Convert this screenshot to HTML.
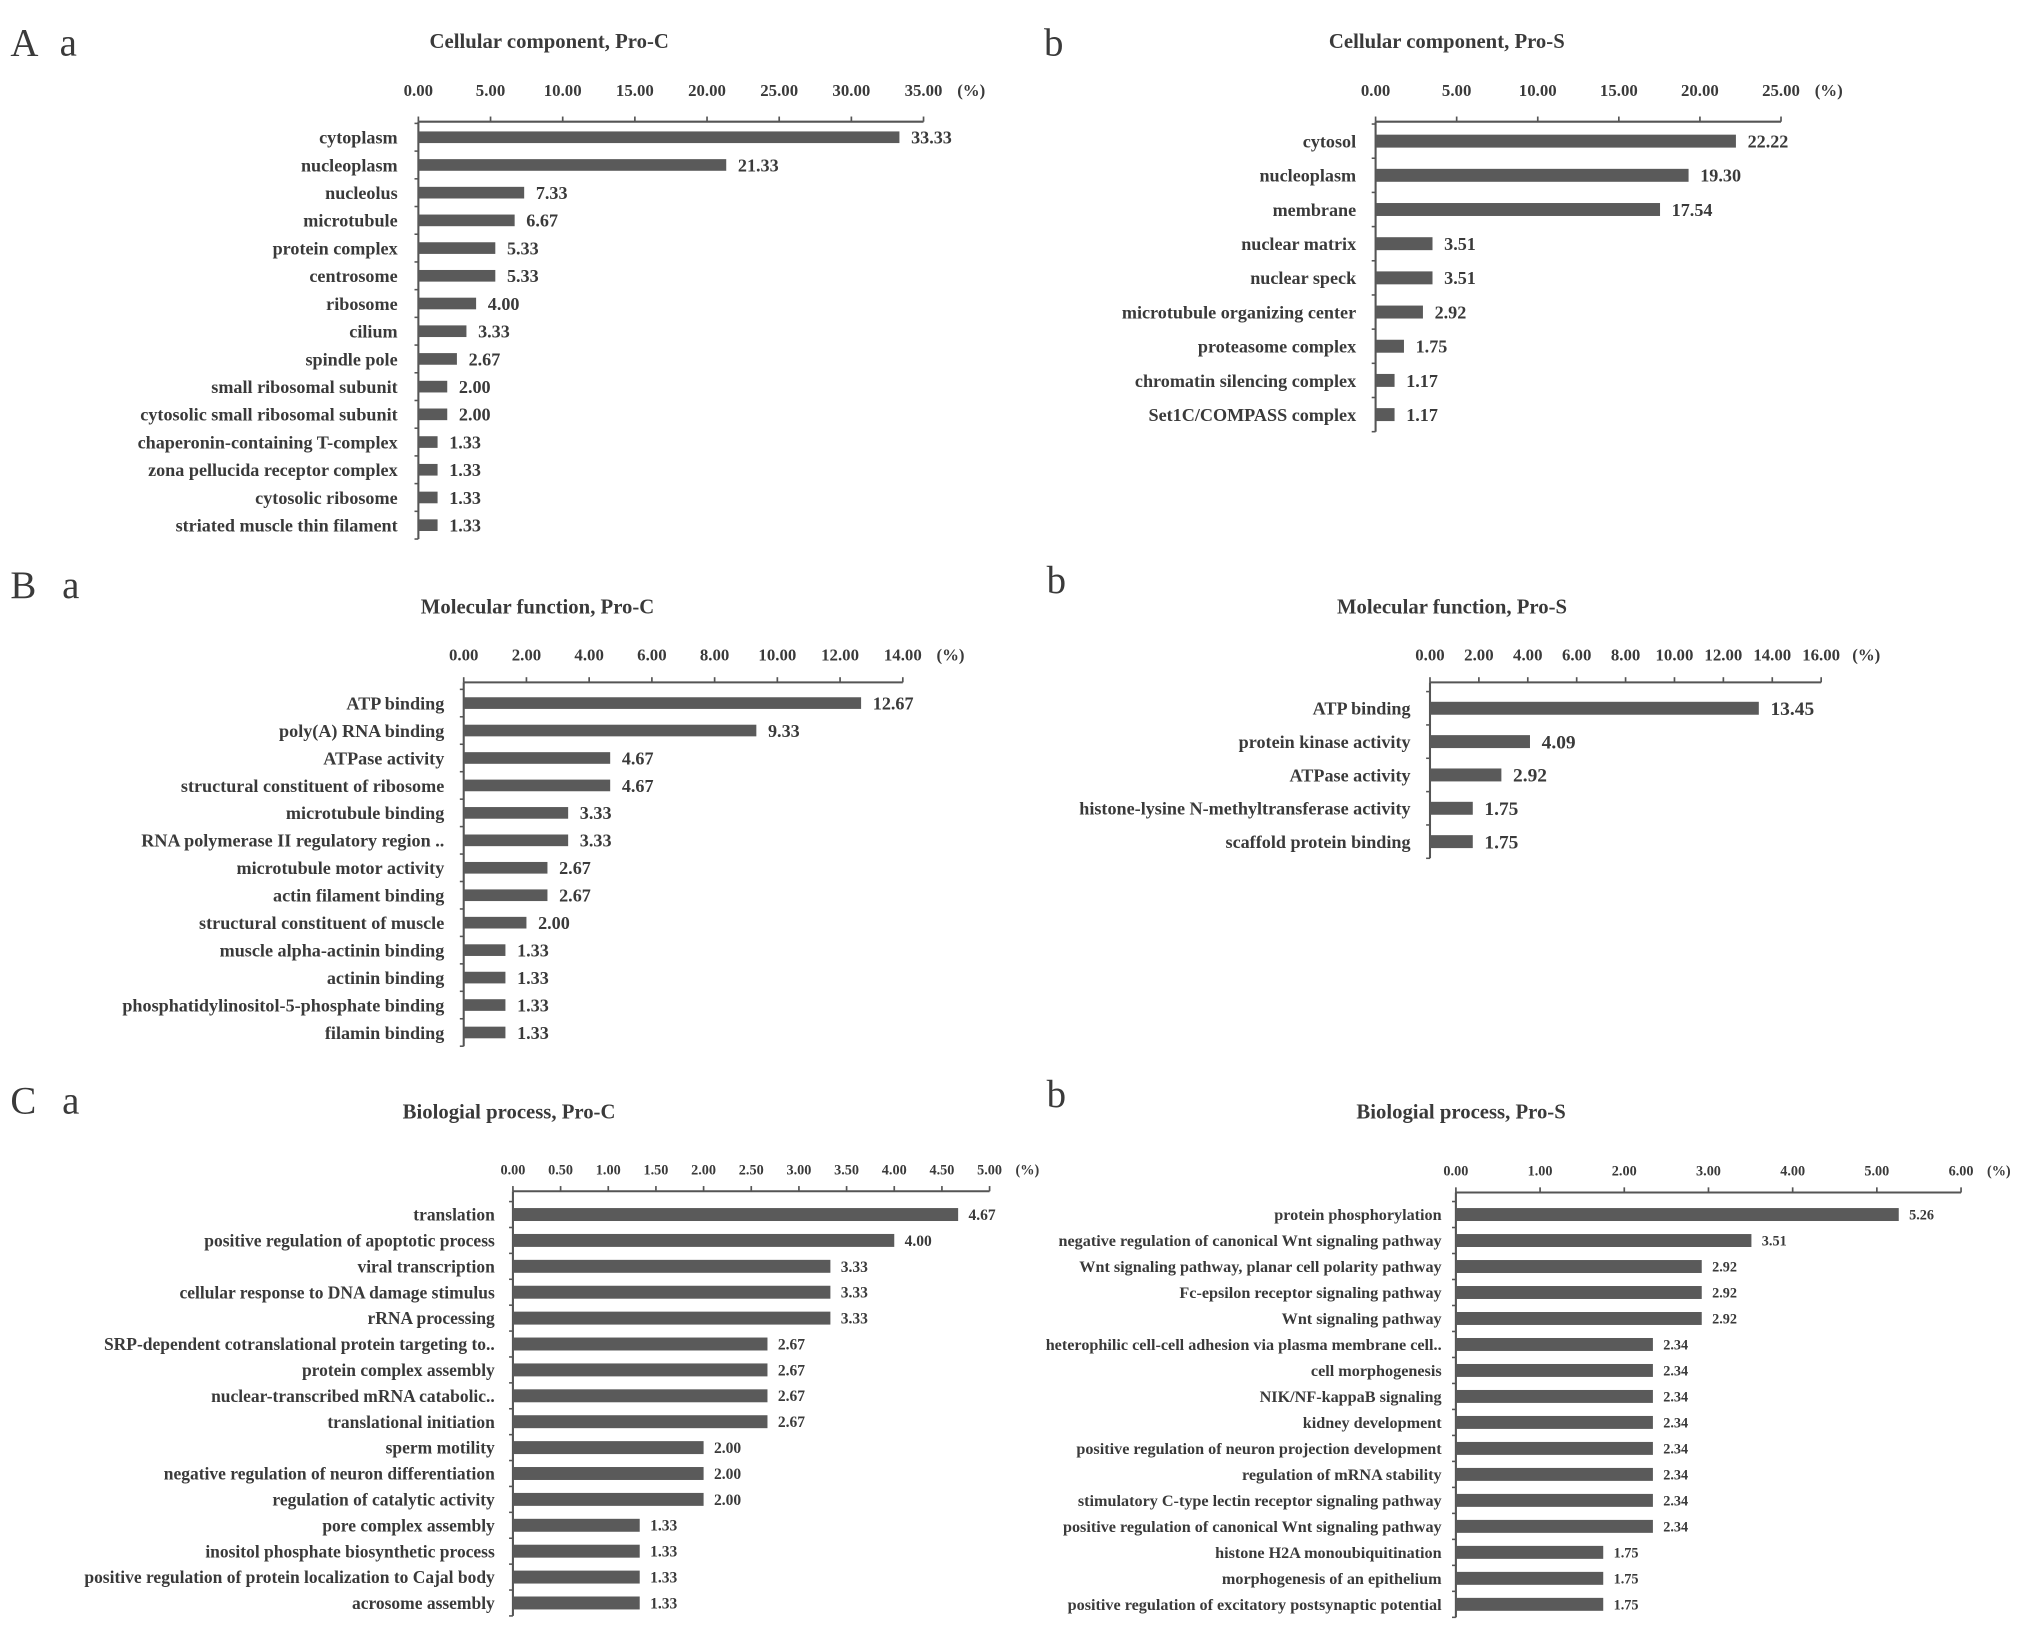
<!DOCTYPE html>
<html><head><meta charset="utf-8"><style>
html,body{margin:0;padding:0;background:#fff;}
svg{display:block;}
text{font-family:"Liberation Serif",serif;fill:#3a3a3a;}
</style></head><body>
<svg id="fig" width="2031" height="1647" viewBox="0 0 1568 1272" preserveAspectRatio="none" xmlns="http://www.w3.org/2000/svg"></svg>
<script>
// Panel A a: Cellular component, Pro-C
const aaCategories = ["cytoplasm","nucleoplasm","nucleolus","microtubule","protein complex","centrosome","ribosome","cilium","spindle pole","small ribosomal subunit","cytosolic small ribosomal subunit","chaperonin-containing T-complex","zona pellucida receptor complex","cytosolic ribosome","striated muscle thin filament"];
const aaValues = [33.33,21.33,7.33,6.67,5.33,5.33,4.00,3.33,2.67,2.00,2.00,1.33,1.33,1.33,1.33];
const aaTicks = [0,5,10,15,20,25,30,35];
// Panel A b: Cellular component, Pro-S
const abCategories = ["cytosol","nucleoplasm","membrane","nuclear matrix","nuclear speck","microtubule organizing center","proteasome complex","chromatin silencing complex","Set1C/COMPASS complex"];
const abValues = [22.22,19.30,17.54,3.51,3.51,2.92,1.75,1.17,1.17];
const abTicks = [0,5,10,15,20,25];
// Panel B a: Molecular function, Pro-C
const baCategories = ["ATP binding","poly(A) RNA binding","ATPase activity","structural constituent of ribosome","microtubule binding","RNA polymerase II regulatory region ..","microtubule motor activity","actin filament binding","structural constituent of muscle","muscle alpha-actinin binding","actinin binding","phosphatidylinositol-5-phosphate binding","filamin binding"];
const baValues = [12.67,9.33,4.67,4.67,3.33,3.33,2.67,2.67,2.00,1.33,1.33,1.33,1.33];
const baTicks = [0,2,4,6,8,10,12,14];
// Panel B b: Molecular function, Pro-S
const bbCategories = ["ATP binding","protein kinase activity","ATPase activity","histone-lysine N-methyltransferase activity","scaffold protein binding"];
const bbValues = [13.45,4.09,2.92,1.75,1.75];
const bbTicks = [0,2,4,6,8,10,12,14,16];
// Panel C a: Biological process, Pro-C
const caCategories = ["translation","positive regulation  of apoptotic process","viral transcription","cellular response to DNA damage stimulus","rRNA processing","SRP-dependent cotranslational protein targeting to..","protein complex assembly","nuclear-transcribed mRNA catabolic..","translational initiation","sperm motility","negative regulation of neuron differentiation","regulation of catalytic activity","pore complex assembly","inositol phosphate biosynthetic process","positive regulation  of protein localization  to Cajal body","acrosome assembly"];
const caValues = [4.67,4.00,3.33,3.33,3.33,2.67,2.67,2.67,2.67,2.00,2.00,2.00,1.33,1.33,1.33,1.33];
const caTicks = [0,0.5,1,1.5,2,2.5,3,3.5,4,4.5,5];
// Panel C b: Biological process, Pro-S
const cbCategories = ["protein phosphorylation","negative regulation of canonical Wnt signaling pathway","Wnt signaling pathway, planar cell polarity pathway","Fc-epsilon receptor signaling pathway","Wnt signaling pathway","heterophilic cell-cell  adhesion via plasma membrane cell..","cell morphogenesis","NIK/NF-kappaB signaling","kidney development","positive regulation  of neuron projection development","regulation of mRNA stability","stimulatory C-type lectin  receptor signaling pathway","positive regulation  of canonical Wnt signaling pathway","histone H2A monoubiquitination","morphogenesis of an epithelium","positive regulation  of excitatory postsynaptic potential"];
const cbValues = [5.26,3.51,2.92,2.92,2.92,2.34,2.34,2.34,2.34,2.34,2.34,2.34,2.34,1.75,1.75,1.75];
const cbTicks = [0,1,2,3,4,5,6];

const NS = "http://www.w3.org/2000/svg";
const svg = document.getElementById('fig');
function mk(tag, attrs, parent){
  const e = document.createElementNS(NS, tag);
  for (const k in attrs) e.setAttribute(k, attrs[k]);
  (parent||svg).appendChild(e);
  return e;
}
function txt(s, attrs, parent){ const t = mk('text', attrs, parent); t.textContent = s; return t; }

const letters = [["A",8,43,30],["a",46,43,30],["b",806,43,30],["B",8,462,30],["a",48,462,30],["b",808,458,30],["C",8,860,30],["a",48,860,30],["b",808,855,30]];
letters.forEach(l=>{
  const t = txt(l[0], {x:l[1], y:l[2], 'font-size':l[3], 'fill':'#444'});
  
  
});

function panel(id, title, titleX, titleY, cats, vals, ticks, o){
  const g = mk('g', {});
  
  
  const xs = v => o.x0 + (v - ticks[0]) / (ticks[ticks.length-1] - ticks[0]) * (o.x1 - o.x0);
  const ys = i => o.y0 + i * o.step;
  const t = txt(title, {x:titleX, y:titleY, 'text-anchor':'middle', 'font-size':o.tfs||16, 'font-weight':'bold'}, g);
  
  
  const ax = mk('line', {x1:xs(ticks[0]), x2:xs(ticks[ticks.length-1]), y1:o.axisY, y2:o.axisY, stroke:'#555', 'stroke-width':1.6}, g);
  
  
  ticks.forEach((v,i)=>{
    mk('line', {x1:xs(v), x2:xs(v), y1:o.axisY-4, y2:o.axisY, stroke:'#555', 'stroke-width':1.3}, g);
    const tl = txt(v.toFixed(2), {x:xs(v), y:o.axisY - o.tickGap, 'text-anchor':'middle', 'font-size':o.tkfs, 'font-weight':'bold', fill:'#555'}, g);
    
    
  });
  const pct = txt('(%)', {x:xs(ticks[ticks.length-1]) + o.pctGap, y:o.axisY - o.tickGap, 'font-size':o.tkfs, 'font-weight':'bold', fill:'#555'}, g);
  
  
  const yEnd = ys(cats.length-1) + o.step/2;
  const ya = mk('line', {x1:o.x0, x2:o.x0, y1:o.axisY, y2:yEnd, stroke:'#555', 'stroke-width':1.6}, g);
  
  
  for (let i=0;i<=cats.length;i++){
    const yy = o.y0 - o.step/2 + i*o.step;
    mk('line', {x1:o.x0-3, x2:o.x0, y1:yy, y2:yy, stroke:'#555', 'stroke-width':1.2}, g);
  }
  cats.forEach((c,i)=>{
    const y = ys(i);
    const b = mk('rect', {x:o.x0, y:y - o.bh/2, width:xs(vals[i]) - o.x0, height:o.bh, fill:'#5a5a5a'}, g);
    
    
    const l = txt(c, {x:o.labelX, y:y + o.lfs*0.35, 'text-anchor':'end', 'font-size':o.lfs, 'font-weight':'bold'}, g);
    
    
    const v = txt(vals[i].toFixed(2), {x:xs(vals[i]) + o.vGap, y:y + o.vfs*0.35, 'font-size':o.vfs, 'font-weight':'bold'}, g);
    
    
  });
}

panel('aa', 'Cellular component, Pro-C', 424, 37, aaCategories, aaValues, aaTicks,
  {x0:323, x1:713, axisY:94, tickGap:20, y0:106, step:21.4, bh:9, labelX:307, lfs:14, vfs:14, tkfs:13, vGap:9, pctGap:26});
panel('ab', 'Cellular component, Pro-S', 1117, 37, abCategories, abValues, abTicks,
  {x0:1062, x1:1375, axisY:94, tickGap:20, y0:109, step:26.4, bh:10, labelX:1047, lfs:14, vfs:14, tkfs:13, vGap:9, pctGap:26});
panel('ba', 'Molecular function, Pro-C', 415, 474, baCategories, baValues, baTicks,
  {x0:358, x1:697, axisY:527, tickGap:17, y0:543, step:21.2, bh:9, labelX:343, lfs:14, vfs:14, tkfs:13, vGap:9, pctGap:26});
panel('bb', 'Molecular function, Pro-S', 1121, 474, bbCategories, bbValues, bbTicks,
  {x0:1104, x1:1406, axisY:527, tickGap:17, y0:547, step:25.75, bh:10, labelX:1089, lfs:14, vfs:15, tkfs:13, vGap:9, pctGap:24});
panel('ca', 'Biologial process, Pro-C', 393, 864, caCategories, caValues, caTicks,
  {x0:396, x1:764, axisY:920, tickGap:13, y0:938, step:20, bh:10, labelX:382, lfs:13.5, vfs:12, tkfs:11, vGap:8, pctGap:20});
panel('cb', 'Biologial process, Pro-S', 1128, 864, cbCategories, cbValues, cbTicks,
  {x0:1124, x1:1514, axisY:921, tickGap:13, y0:938, step:20.07, bh:10, labelX:1113, lfs:12.5, vfs:11, tkfs:11, vGap:8, pctGap:20});
</script>
</body></html>
